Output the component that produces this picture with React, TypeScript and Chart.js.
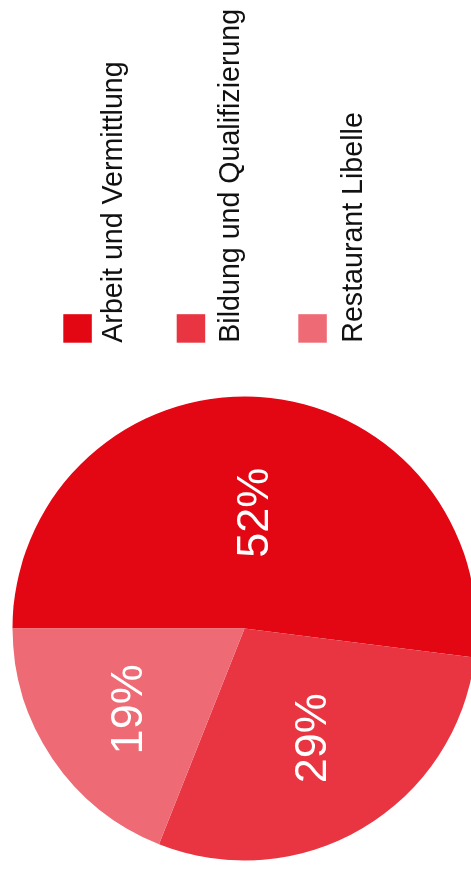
import React, { useEffect, useRef } from 'react';
import { Chart, registerables } from 'chart.js';

Chart.register(...registerables);

// Data
const categories = ['Arbeit und Vermittlung', 'Bildung und Qualifizierung', 'Restaurant Libelle'];
const shares = [52, 29, 19];
const sliceColors = ['#e30613', '#e83541', '#ee6a74'];

// Presentation constants (unrotated frame: 870 wide x 480 tall)
const labelRadiusFactors = [0.5, 0.55, 0.62];
const legendLeft = 527.3;
const legendBoxTops = [63.3, 176.7, 298.3];
const legendBaselines = [121.7, 238.5, 361.7];
const legendBoxSize = 28.5;
const FONT = '"Liberation Sans", Arial, Helvetica, sans-serif';
const labelFontSize = 45;

const sliceLabelPlugin = {
  id: 'sliceLabels',
  afterDatasetsDraw(chart: any) {
    const ctx = chart.ctx;
    const meta = chart.getDatasetMeta(0);
    ctx.save();
    ctx.font = `${labelFontSize}px ${FONT}`;
    ctx.fillStyle = '#ffffff';
    ctx.textAlign = 'center';
    ctx.textBaseline = 'alphabetic';
    meta.data.forEach((arc: any, i: number) => {
      const p = arc.getProps(['startAngle', 'endAngle', 'x', 'y', 'outerRadius'], true);
      const mid = (p.startAngle + p.endAngle) / 2;
      const r = p.outerRadius * labelRadiusFactors[i];
      const cx = p.x + Math.cos(mid) * r;
      const cy = p.y + Math.sin(mid) * r;
      ctx.fillText(`${chart.data.datasets[0].data[i]}%`, cx, cy + (labelFontSize * 0.716) / 2);
    });
    ctx.restore();
  },
};

const legendPlugin = {
  id: 'customLegend',
  afterDraw(chart: any) {
    const ctx = chart.ctx;
    const labels = chart.data.labels as string[];
    const colors = chart.data.datasets[0].backgroundColor as string[];
    ctx.save();
    ctx.font = `28.6px ${FONT}`;
    ctx.textAlign = 'left';
    ctx.textBaseline = 'alphabetic';
    labels.forEach((lab, i) => {
      ctx.fillStyle = colors[i];
      ctx.fillRect(legendLeft, legendBoxTops[i], legendBoxSize, legendBoxSize);
      ctx.fillStyle = '#111111';
      ctx.fillText(lab, legendLeft, legendBaselines[i]);
    });
    ctx.restore();
  },
};

export default function App() {
  const canvasRef = useRef<HTMLCanvasElement | null>(null);

  useEffect(() => {
    if (!canvasRef.current) return;
    const chart = new Chart(canvasRef.current, {
      type: 'pie',
      data: {
        labels: categories,
        datasets: [
          {
            data: shares,
            backgroundColor: sliceColors,
            borderWidth: 0,
          },
        ],
      },
      options: {
        responsive: false,
        animation: false,
        layout: { padding: { left: 9.5, top: 12.5, right: 396.5, bottom: 3.5 } },
        plugins: {
          legend: { display: false },
          tooltip: { enabled: false },
        },
      },
      plugins: [sliceLabelPlugin, legendPlugin],
    });
    return () => chart.destroy();
  }, []);

  return (
    <div
      style={{
        position: 'absolute',
        left: 0,
        top: 0,
        width: 471,
        height: 870,
        overflow: 'hidden',
        background: '#ffffff',
      }}
    >
      <div
        style={{
          position: 'absolute',
          left: 0,
          top: 0,
          width: 870,
          height: 480,
          transformOrigin: '0 0',
          transform: 'translate(0px, 870px) rotate(-90deg)',
        }}
      >
        <canvas ref={canvasRef} width={870} height={480} style={{ width: 870, height: 480, display: 'block' }} />
      </div>
    </div>
  );
}
